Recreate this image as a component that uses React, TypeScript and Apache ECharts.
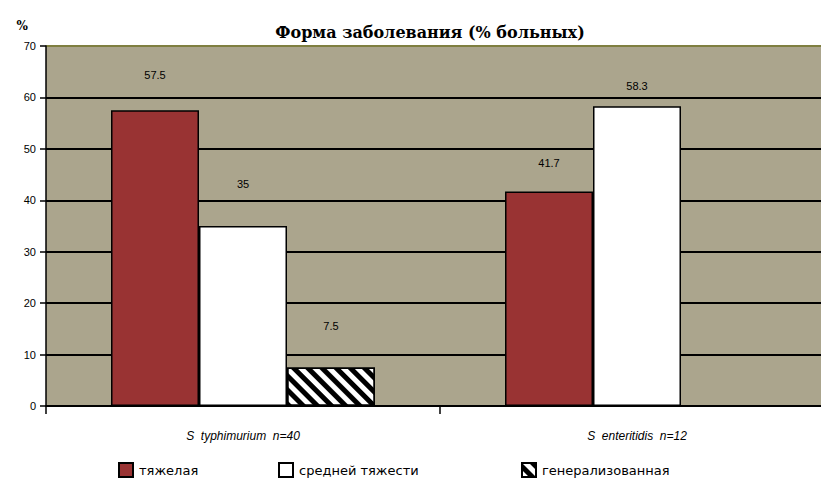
import React, { useEffect, useRef } from "react";
import * as echarts from "echarts";

const categories = ["S  typhimurium  n=40", "S  enteritidis  n=12"];
const seriesNames = ["тяжелая", "средней тяжести", "генерализованная"];
const severe = [57.5, 41.7];
const moderate = [35, 58.3];
const generalized: (number | null)[] = [7.5, null];
const yTicks = [0, 10, 20, 30, 40, 50, 60, 70];
const titleText = "Форма заболевания (% больных)";

// label distances (style only)
const labelDist = [
  [30, 23],
  [37, 15],
  [36, 0],
];

export default function App() {
  const ref = useRef<HTMLDivElement>(null);
  useEffect(() => {
    if (!ref.current) return;
    const chart = echarts.init(ref.current, null, { renderer: "svg" });
    const labelStyle = {
      show: true,
      position: "top" as const,
      color: "#000",
      fontFamily: "Liberation Sans",
      fontSize: 11,
    };
    const mk = (vals: (number | null)[], si: number) =>
      vals.map((v, i) => ({
        value: v,
        label: { distance: labelDist[si][i] },
      }));
    const barBorder = { borderColor: "#000", borderWidth: 1.5 };
    chart.setOption({
      animation: false,
      backgroundColor: "#fff",
      title: {
        text: titleText,
        left: 425,
        textAlign: "center",
        top: 19,
        textStyle: {
          fontFamily: "DejaVu Serif",
          fontWeight: "bold",
          fontSize: 16,
          color: "#000",
        },
      },
      legend: [0, 1, 2].map((i) => ({
        data: [seriesNames[i]],
        left: [113, 273, 516][i],
        top: 457,
        icon: "rect",
        itemWidth: 14,
        itemHeight: 14,
        itemGap: 0,
        textStyle: {
          fontFamily: "DejaVu Sans",
          fontSize: 13,
          color: "#000",
          padding: [0, 0, 0, 1],
        },
      })),
      grid: {
        left: 46,
        top: 46,
        bottom: 74,
        right: 0,
        show: true,
        backgroundColor: "#ABA58D",
        borderWidth: 0,
      },
      xAxis: {
        type: "category",
        data: categories,
        axisLine: { lineStyle: { color: "#000", width: 1.5 } },
        axisTick: { show: true, length: 8, lineStyle: { color: "#000", width: 1.5 } },
        axisLabel: {
          color: "#000",
          fontFamily: "Liberation Sans",
          fontStyle: "italic",
          fontSize: 12,
          margin: 24,
        },
      },
      yAxis: {
        type: "value",
        min: yTicks[0],
        max: yTicks[yTicks.length - 1],
        interval: 10,
        name: "%",
        nameLocation: "end",
        nameGap: 14,
        nameTextStyle: {
          fontFamily: "DejaVu Serif",
          fontWeight: "bold",
          fontSize: 12,
          color: "#000",
          align: "right",
          padding: [0, 18, 0, 0],
        },
        axisLine: { show: true, lineStyle: { color: "#000", width: 1.5 } },
        axisTick: { show: true, length: 6, lineStyle: { color: "#000", width: 1.5 } },
        axisLabel: {
          color: "#000",
          fontFamily: "Liberation Sans",
          fontSize: 11,
          margin: 10,
        },
        splitLine: {
          show: true,
          lineStyle: {
            color: ["#000", "#000", "#000", "#000", "#000", "#000", "#000", "#7F7F40"],
            width: 1.8,
          },
        },
      },
      series: [
        {
          name: seriesNames[0],
          type: "bar",
          data: mk(severe, 0),
          barGap: "0%",
          barCategoryGap: "33%",
          itemStyle: { color: "#993333", ...barBorder },
          label: labelStyle,
        },
        {
          name: seriesNames[1],
          type: "bar",
          data: mk(moderate, 1),
          itemStyle: { color: "#ffffff", ...barBorder },
          label: labelStyle,
        },
        {
          name: seriesNames[2],
          type: "bar",
          data: mk(generalized, 2),
          itemStyle: {
            color: "#ffffff",
            ...barBorder,
            decal: {
              symbol: "rect",
              symbolSize: 1,
              dashArrayX: [1, 0],
              dashArrayY: [5, 5],
              rotation: Math.PI / 4,
              color: "#000",
              backgroundColor: "#fff",
            },
          },
          label: labelStyle,
        },
      ],
    });
    return () => chart.dispose();
  }, []);
  return (
    <div
      ref={ref}
      style={{ position: "fixed", left: 0, top: 0, width: 834, height: 480 }}
    />
  );
}
